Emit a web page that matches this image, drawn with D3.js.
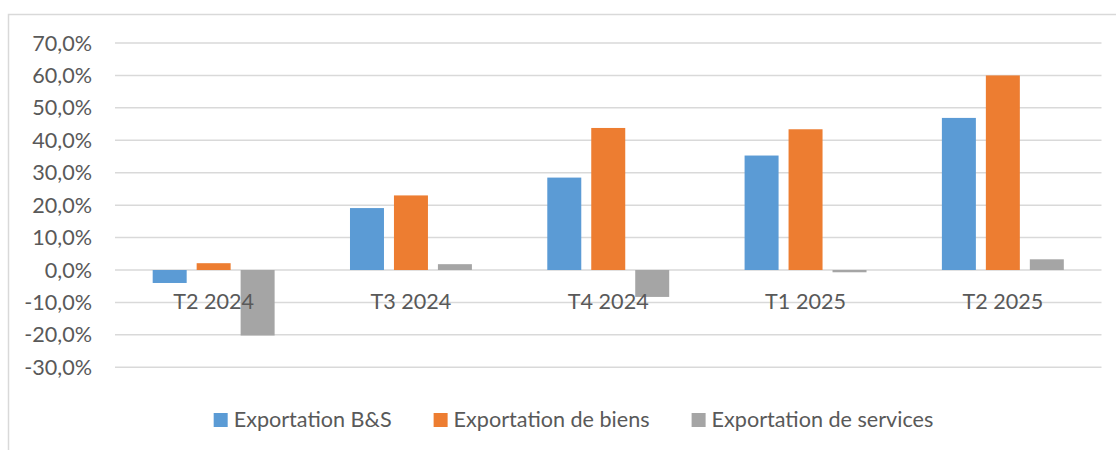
<!DOCTYPE html>
<html>
<head>
<meta charset="utf-8">
<script src="https://cdn.jsdelivr.net/npm/d3@7"></script>
<style>
  body { margin: 0; background: #fff; }
  svg { display: block; font-family: Lato, "Open Sans", sans-serif; }
</style>
</head>
<body>
<svg id="chart" width="1116" height="450"></svg>
<script>
// data
const categories = ['T2 2024', 'T3 2024', 'T4 2024', 'T1 2025', 'T2 2025'];
const seriesNames = ['Exportation B&S', 'Exportation de biens', 'Exportation de services'];
const exportBS = [-4.0, 19.1, 28.5, 35.3, 46.9];
const exportBiens = [2.1, 23.0, 43.8, 43.4, 60.0];
const exportServices = [-20.2, 1.8, -8.3, -0.7, 3.3];
const yTicks = [-30, -20, -10, 0, 10, 20, 30, 40, 50, 60, 70];

const seriesValues = [exportBS, exportBiens, exportServices];
const colors = ['#5b9bd5', '#ed7d31', '#a5a5a5'];
const textColor = '#595959';
const gridColor = '#d9d9d9';
const fontSize = '21.6px';

var svg = d3.select('#chart');

// chart frame (top + left edges visible)
svg.append('path')
    .attr('d', 'M8.5 450 L8.5 14.5 L1116 14.5')
    .attr('fill', 'none')
    .attr('stroke', gridColor)
    .attr('stroke-width', 1.5);

var plotLeft = 115, plotRight = 1101.5;

var x = d3.scaleBand()
    .domain(categories)
    .range([plotLeft, plotRight])
    .paddingInner(0.382)
    .paddingOuter(0.191);

var xInner = d3.scaleBand()
    .domain(seriesNames)
    .range([0, x.bandwidth()])
    .paddingInner(0.227);

var y = d3.scaleLinear()
    .domain([-30, 70])
    .range([367.3, 43]);

// gridlines
svg.append('g')
    .selectAll('line')
    .data(yTicks)
    .enter().append('line')
    .attr('x1', plotLeft)
    .attr('x2', plotRight)
    .attr('y1', d => y(d))
    .attr('y2', d => y(d))
    .attr('stroke', gridColor)
    .attr('stroke-width', 1.5);

// y labels
var fmt = d => d3.format('.1f')(d).replace('.', ',').replace('−', '-') + '%';
svg.append('g')
    .selectAll('text')
    .data(yTicks)
    .enter().append('text')
    .attr('x', 92)
    .attr('y', d => y(d))
    .attr('dy', '0.35em')
    .attr('text-anchor', 'end')
    .attr('fill', textColor)
    .style('font-size', fontSize)
    .text(fmt);

// bars
var rows = [];
categories.forEach(function(c, i) {
    seriesNames.forEach(function(s, j) {
        rows.push({cat: c, series: s, value: seriesValues[j][i], color: colors[j]});
    });
});

svg.append('g')
    .selectAll('rect')
    .data(rows)
    .enter().append('rect')
    .attr('x', d => x(d.cat) + xInner(d.series))
    .attr('width', xInner.bandwidth())
    .attr('y', d => y(Math.max(0, d.value)))
    .attr('height', d => Math.abs(y(d.value) - y(0)))
    .attr('fill', d => d.color);

// category labels (drawn over bars, like the original)
svg.append('g')
    .selectAll('text')
    .data(categories)
    .enter().append('text')
    .attr('x', d => x(d) + x.bandwidth() / 2)
    .attr('y', 309)
    .attr('text-anchor', 'middle')
    .attr('fill', textColor)
    .style('font-size', fontSize)
    .text(d => d);

// legend
var legend = svg.append('g');
var items = legend.selectAll('g')
    .data(seriesNames)
    .enter().append('g');
items.append('rect')
    .attr('width', 14)
    .attr('height', 14)
    .attr('y', 413)
    .attr('fill', (d, i) => colors[i]);
items.append('text')
    .attr('x', 20)
    .attr('y', 427)
    .attr('fill', textColor)
    .style('font-size', fontSize)
    .text(d => d);

var lx = 0;
items.each(function() {
    var w = d3.select(this).select('text').node().getComputedTextLength();
    d3.select(this).attr('transform', 'translate(' + lx + ',0)');
    lx += 20 + w + 42;
});
var legendW = lx - 42;
legend.attr('transform', 'translate(' + (573.5 - legendW / 2) + ',0)');
</script>
</body>
</html>
